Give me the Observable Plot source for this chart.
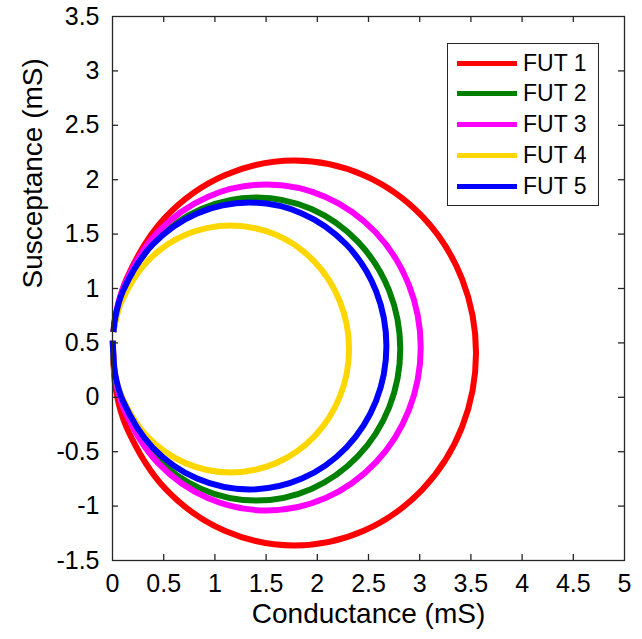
<!DOCTYPE html>
<html>
<head>
<meta charset="utf-8">
<script src="https://cdn.jsdelivr.net/npm/d3@7"></script>
<script src="https://cdn.jsdelivr.net/npm/@observablehq/plot@0.6"></script>
<style>
  html, body { margin: 0; padding: 0; background: white; }
  #wrap { position: relative; width: 642px; height: 639px; }
  #legend { position: absolute; left: 447px; top: 43px; width: 150px; height: 161px;
    border: 1px solid #262626; background: white; font-family: "Liberation Sans", Arial, sans-serif;
    font-size: 23px; color: #000; }
  .row { position: absolute; left: 0; height: 30px; display: flex; align-items: center; }
  .sw { width: 60px; height: 5px; margin-left: 9px; margin-right: 6px; }
</style>
</head>
<body>
<div id="wrap"><div id="legend"></div></div>
<script>
// Series names and colours
const names = ["FUT 1", "FUT 2", "FUT 3", "FUT 4", "FUT 5"];
const colors = ["#ff0000", "#008000", "#ff00ff", "#ffd700", "#0000ff"];

// Conductance G (mS) and susceptance B (mS)
const fut1G = [0.010, 0.034, 0.135, 0.520, 1.096, 1.775, 2.454, 3.030, 3.415, 3.550, 3.415, 3.030, 2.454, 1.775, 1.096, 0.520, 0.135, 0.034, 0.003];
const fut1B = [0.600, 0.752, 1.084, 1.658, 2.041, 2.176, 2.041, 1.658, 1.084, 0.407, -0.270, -0.844, -1.227, -1.362, -1.227, -0.844, -0.270, 0.062, 0.520];

const fut2G = [0.010, 0.027, 0.107, 0.412, 0.867, 1.405, 1.943, 2.398, 2.703, 2.810, 2.703, 2.398, 1.943, 1.405, 0.867, 0.412, 0.107, 0.027, 0.003];
const fut2B = [0.600, 0.716, 0.977, 1.428, 1.730, 1.836, 1.730, 1.428, 0.977, 0.444, -0.089, -0.540, -0.842, -0.949, -0.842, -0.540, -0.089, 0.172, 0.520];

const fut3G = [0.010, 0.029, 0.115, 0.441, 0.929, 1.505, 2.081, 2.569, 2.895, 3.010, 2.895, 2.569, 2.081, 1.505, 0.929, 0.441, 0.115, 0.029, 0.003];
const fut3B = [0.600, 0.750, 1.031, 1.517, 1.842, 1.956, 1.842, 1.517, 1.031, 0.458, -0.115, -0.601, -0.926, -1.040, -0.926, -0.601, -0.115, 0.166, 0.520];

const fut4G = [0.010, 0.022, 0.088, 0.338, 0.713, 1.155, 1.597, 1.972, 2.222, 2.310, 2.222, 1.972, 1.597, 1.155, 0.713, 0.338, 0.088, 0.022, 0.003];
const fut4B = [0.600, 0.665, 0.878, 1.247, 1.493, 1.579, 1.493, 1.247, 0.878, 0.444, 0.010, -0.359, -0.605, -0.691, -0.605, -0.359, 0.010, 0.223, 0.520];

const fut5G = [0.010, 0.026, 0.102, 0.392, 0.826, 1.338, 1.850, 2.284, 2.574, 2.675, 2.574, 2.284, 1.850, 1.338, 0.826, 0.392, 0.102, 0.026, 0.003];
const fut5B = [0.600, 0.728, 0.976, 1.404, 1.690, 1.790, 1.690, 1.404, 0.976, 0.471, -0.033, -0.461, -0.747, -0.847, -0.747, -0.461, -0.033, 0.214, 0.520];

// Tick values
const xTicks = [0, 0.5, 1, 1.5, 2, 2.5, 3, 3.5, 4, 4.5, 5];
const yTicks = [-1.5, -1, -0.5, 0, 0.5, 1, 1.5, 2, 2.5, 3, 3.5];

const allG = [fut1G, fut2G, fut3G, fut4G, fut5G];
const allB = [fut1B, fut2B, fut3B, fut4B, fut5B];
const series = names.map((name, i) => ({
  name, color: colors[i],
  data: allG[i].map((g, j) => ({G: g, B: allB[i][j]}))
}));

const axisColor = "#262626";
const innerTicksX = xTicks.slice(1, -1);
const innerTicksY = yTicks.slice(1, -1);

const chart = Plot.plot({
  width: 642, height: 639,
  marginLeft: 112, marginRight: 18, marginTop: 16, marginBottom: 79,
  style: {fontFamily: "'Liberation Sans', Arial, sans-serif", fontSize: "25px", color: "#000", background: "white"},
  x: {domain: [0, 5], label: null},
  y: {domain: [-1.5, 3.5], label: null},
  marks: [
    ...series.map(s => Plot.line(s.data, {x: "G", y: "B", stroke: s.color, strokeWidth: 6, curve: "catmull-rom", strokeLinecap: "butt"})),
    Plot.frame({stroke: axisColor, strokeWidth: 1.3}),
    // inward ticks on all four sides
    Plot.tickX(innerTicksX, {x: d => d, stroke: axisColor, strokeWidth: 1.3, insetTop: 538}),
    Plot.tickX(innerTicksX, {x: d => d, stroke: axisColor, strokeWidth: 1.3, insetBottom: 538}),
    Plot.tickY(innerTicksY, {y: d => d, stroke: axisColor, strokeWidth: 1.3, insetRight: 506}),
    Plot.tickY(innerTicksY, {y: d => d, stroke: axisColor, strokeWidth: 1.3, insetLeft: 506}),
    Plot.axisX(xTicks, {anchor: "bottom", tickSize: 0, tickPadding: 14, label: null, tickFormat: d => String(d), fill: "#000"}),
    Plot.axisY(yTicks, {anchor: "left", tickSize: 0, tickPadding: 13, label: null, tickFormat: d => String(d), fill: "#000"}),
    Plot.text(["Conductance (mS)"], {frameAnchor: "bottom", dy: 54, fontSize: 28, fill: "#000", lineAnchor: "middle"}),
    Plot.text(["Susceptance (mS)"], {frameAnchor: "left", dx: -79, rotate: -90, fontSize: 28, fill: "#000", lineAnchor: "middle"})
  ]
});

document.getElementById("wrap").prepend(chart);

const legend = document.getElementById("legend");
series.forEach((s, i) => {
  const row = document.createElement("div");
  row.className = "row";
  row.style.top = (4 + i * 30.8) + "px";
  const sw = document.createElement("div");
  sw.className = "sw";
  sw.style.background = s.color;
  const t = document.createElement("span");
  t.textContent = s.name;
  row.appendChild(sw);
  row.appendChild(t);
  legend.appendChild(row);
});
</script>
</body>
</html>
